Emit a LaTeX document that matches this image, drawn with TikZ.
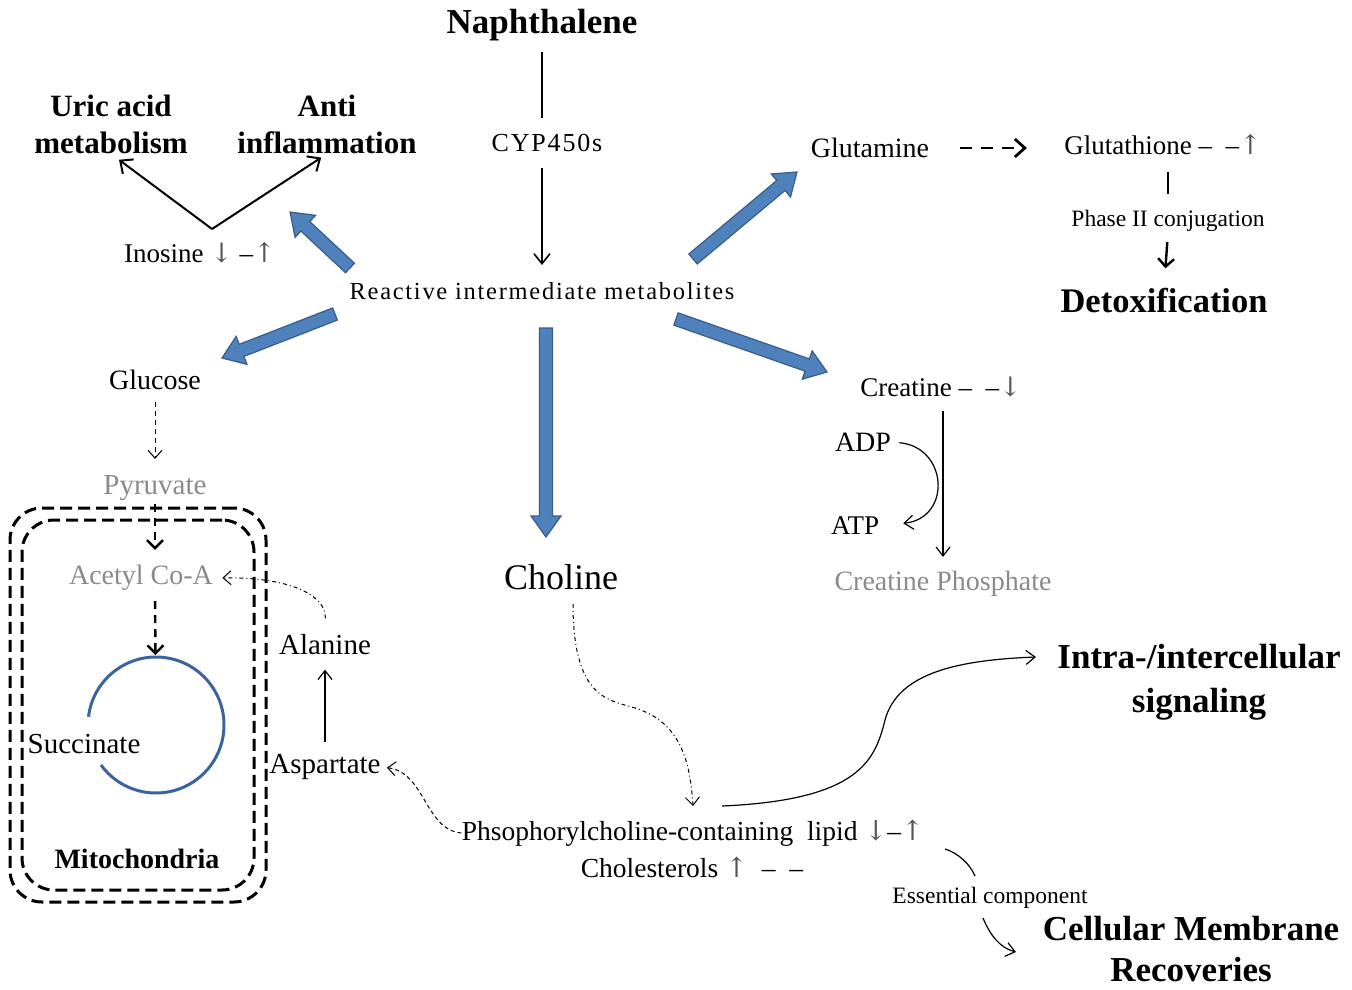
\documentclass[tikz,border=0pt]{standalone}
\usepackage{fontspec}
\setmainfont{Liberation Serif}
\newfontfamily\spaced[LetterSpace=7]{Liberation Serif}
\newfontfamily\arrf{DejaVu Serif}
\usetikzlibrary{arrows.meta,calc}
\definecolor{blueA}{HTML}{4F81BD}
\definecolor{blueB}{HTML}{385D8A}
\definecolor{cyc}{HTML}{3A63A0}
\definecolor{grayt}{HTML}{8A8A8A}
\definecolor{arrg}{HTML}{555555}
\newcommand{\fsz}[1]{\fontsize{#1}{#1}\selectfont}
\newcommand{\myup}{{\arrf\color{arrg}↑}}
\newcommand{\mydn}{{\arrf\color{arrg}↓}}
\newcommand{\blockarrow}[2]{%
  \coordinate (ba-n) at ($(#2)!10.5pt!(#1)$);
  \draw[blockA] ($(#1)!3.25pt!90:(#2)$) -- ($(ba-n)!3.25pt!90:(#2)$) -- ($(ba-n)!7.5pt!90:(#2)$) -- (#2)
     -- ($(ba-n)!7.5pt!-90:(#2)$) -- ($(ba-n)!3.25pt!-90:(#2)$) -- ($(#1)!3.25pt!-90:(#2)$) -- cycle;}
\begin{document}
\begin{tikzpicture}[x=0.5pt,y=-0.5pt,
  txt/.style={inner sep=0pt, font=\fsz{13.5}},
  big/.style={inner sep=0pt, align=center, font=\bfseries\fsz{17.5}},
  thinarr/.style={line width=0.6pt, -{Straight Barb[length=4.5pt,width=7pt]}},
  midarr/.style={line width=0.8pt, -{Straight Barb[length=5pt,width=8pt]}},
  thickarr/.style={line width=1pt, -{Straight Barb[length=5pt,width=9pt]}},
  blockA/.style={fill=blueA, draw=blueB, line width=0.6pt, line join=miter},
  dashthick/.style={line width=1.2pt, dash pattern=on 4pt off 3pt, -{Straight Barb[length=4pt,width=8pt]}},
  dashthin/.style={line width=0.5pt, dash pattern=on 2.5pt off 2pt, -{Straight Barb[length=4pt,width=7pt]}},
  dashdotln/.style={line width=0.5pt, dash pattern=on 2pt off 1.5pt on 0.5pt off 1.5pt, -{Straight Barb[length=4pt,width=7pt]}},
  mito/.style={draw, line width=1.5pt, dash pattern=on 6pt off 3pt, rounded corners=16pt, inner sep=0pt},
]
\useasboundingbox (0,0) rectangle (1352,989);

% ---------- nodes ----------
\node[big] (naph) at (542,25) {Naphthalene};
\node[big, font=\bfseries\fontsize{15.5}{18.5}\selectfont] (uric) at (111,124) {Uric acid\\metabolism};
\node[big, font=\bfseries\fontsize{15.5}{18.5}\selectfont] (anti) at (327,124) {Anti\\inflammation};
\node[txt, font=\spaced\fsz{13}] (cyp) at (547,143) {CYP450s};
\node[txt, font=\fsz{14}] (glm) at (870,148) {Glutamine};
\node[txt] (glt) at (1163,145) {Glutathione –\enspace–\myup};
\node[txt, font=\fsz{11.75}] (phase) at (1168,221) {Phase II conjugation};
\node[big, font=\bfseries\fsz{17.25}] (detox) at (1164,301) {Detoxification};
\node[txt] (ino) at (200,253) {Inosine \mydn\ –\myup};
\node[txt, font=\spaced\fsz{12.25}] (react) at (542,291) {Reactive intermediate metabolites};
\node[txt, font=\fsz{14}] (gluc) at (155,380) {Glucose};
\node[txt] (creat) at (941,387) {Creatine –\enspace–\mydn};
\node[txt, font=\fsz{14}] (adp) at (863,442) {ADP};
\node[txt] (atp) at (855,526) {ATP};
\node[txt, font=\fsz{14.5}, text=grayt] (pyr) at (155,488) {Pyruvate};
\node[txt, font=\fsz{14}, text=grayt] (acetyl) at (141,578) {Acetyl Co-A};
\node[txt, font=\fsz{18}] (chol) at (561,577) {Choline};
\node[txt, font=\fsz{14}, text=grayt] (crph) at (943,584) {Creatine Phosphate};
\node[txt, font=\fsz{14.5}] (ala) at (325,645) {Alanine};
\node[big, font=\bfseries\fontsize{17.5}{22}\selectfont] (intra) at (1199,682) {Intra-/intercellular\\signaling};
\node[txt, font=\fsz{14.5}] (succ) at (84,744) {Succinate};
\node[txt, font=\fsz{14.5}] (asp) at (325,767) {Aspartate};
\node[txt, font=\fsz{13.75}] (phos) at (693,833) {Phsophorylcholine-containing\ \ lipid \mydn–\myup};
\node[txt, font=\fsz{13.75}] (chole) at (692,867) {Cholesterols \myup\enspace–\enspace–};
\node[txt, font=\bfseries\fsz{14}] (mitot) at (137,859) {Mitochondria};
\node[txt, font=\fsz{11.75}] (ess) at (990,898) {Essential component};
\node[big, font=\bfseries\fontsize{17.5}{20.5}\selectfont] (cell) at (1191,949) {Cellular Membrane\\Recoveries};

% mitochondria membranes
\node[mito, minimum width=128pt, minimum height=197pt] (mout) at (138,705) {};
\node[mito, minimum width=116pt, minimum height=185pt] (min) at (138,705) {};

% ---------- coordinates ----------
\coordinate (inov) at (212,229);
\coordinate (b1s) at (350,268); \coordinate (b1e) at (290,212);
\coordinate (b2s) at (335,314); \coordinate (b2e) at (222,358);
\coordinate (b3s) at (546,328); \coordinate (b3e) at (546,537);
\coordinate (b4s) at (693,259); \coordinate (b4e) at (797,172);
\coordinate (b5s) at (676,319); \coordinate (b5e) at (827,372);
\coordinate (tca) at (156,725);
\coordinate (cholOut) at (573,604);
\coordinate (phosIn) at (693,806);
\coordinate (phosOut) at (722,806);
\coordinate (intraIn) at (1036,657);
\coordinate (essA) at (945,849); \coordinate (essB) at (975,876);
\coordinate (essC) at (983,918); \coordinate (essD) at (1016,952);

% ---------- connectors ----------
\draw[line width=0.8pt, shorten <=5.5pt, shorten >=8pt] (naph.south) -- (naph.south |- cyp.north);
\draw[midarr, shorten <=8pt, shorten >=8.5pt] (cyp.south -| react.north) -- (react.north);

\draw[thickarr, shorten >=5pt] (inov) -- (uric.south);
\draw[thickarr, shorten >=3.5pt] (inov) -- (anti.south);

\blockarrow{b1s}{b1e}
\blockarrow{b2s}{b2e}
\blockarrow{b3s}{b3e}
\blockarrow{b4s}{b4e}
\blockarrow{b5s}{b5e}

\draw[dashthick, line width=1.4pt, dash pattern=on 6pt off 4.5pt, -{Straight Barb[length=5pt,width=9pt]}, shorten <=15pt, shorten >=18.5pt] (glm.east) -- (glm.east -| glt.west);
\draw[line width=1.4pt, shorten <=8pt, shorten >=8pt] (phase.north |- glt.south) -- (phase.north);
\draw[line width=1.2pt, -{Straight Barb[length=4pt,width=8pt]}, shorten <=5pt, shorten >=10pt] (phase.south) -- (detox.north);

\draw[dashthin, shorten <=6pt, shorten >=8pt] (gluc.south) -- (pyr.north);
\draw[dashthick, shorten <=1.5pt, shorten >=7.5pt] (pyr.south) -- (pyr.south |- acetyl.north);
\draw[dashthick, shorten <=5pt, shorten >=35pt] (acetyl.south -| pyr.south) -- (tca);
\draw[cyc, line width=1.5pt] ($(tca)+(173:34pt)$) arc[start angle=173, end angle=-144, radius=34pt];

\draw[dashdotln, shorten <=8pt, shorten >=4.5pt] (ala.north) .. controls (326,595) and (290,577) .. (acetyl.east);
\draw[thinarr, shorten <=6pt, shorten >=7pt] (asp.north) -- (ala.south);
\draw[dashthin, dash pattern=on 2pt off 1.5pt, shorten >=3pt] (phos.west) .. controls (425,830) and (425,772) .. (asp.east);

\draw[dashdotln] (cholOut) .. controls (573,700) and (610,700) .. (635,708) .. controls (680,722) and (690,760) .. (phosIn);
\draw[thinarr] (phosOut) .. controls (860,800) and (875,760) .. (885,720) .. controls (898,672) and (960,660) .. (intraIn);

\draw[thinarr, shorten <=7pt, shorten >=7pt] (creat.south -| crph.north) -- (crph.north);
\draw[thinarr, shorten <=4pt, shorten >=12pt] (adp.east) .. controls (948,447) and (952,518) .. (atp.east);

\draw[line width=0.6pt] (essA) .. controls (958,853) and (970,864) .. (essB);
\draw[thinarr] (essC) .. controls (990,935) and (1000,948) .. (essD);
\end{tikzpicture}
\end{document}
